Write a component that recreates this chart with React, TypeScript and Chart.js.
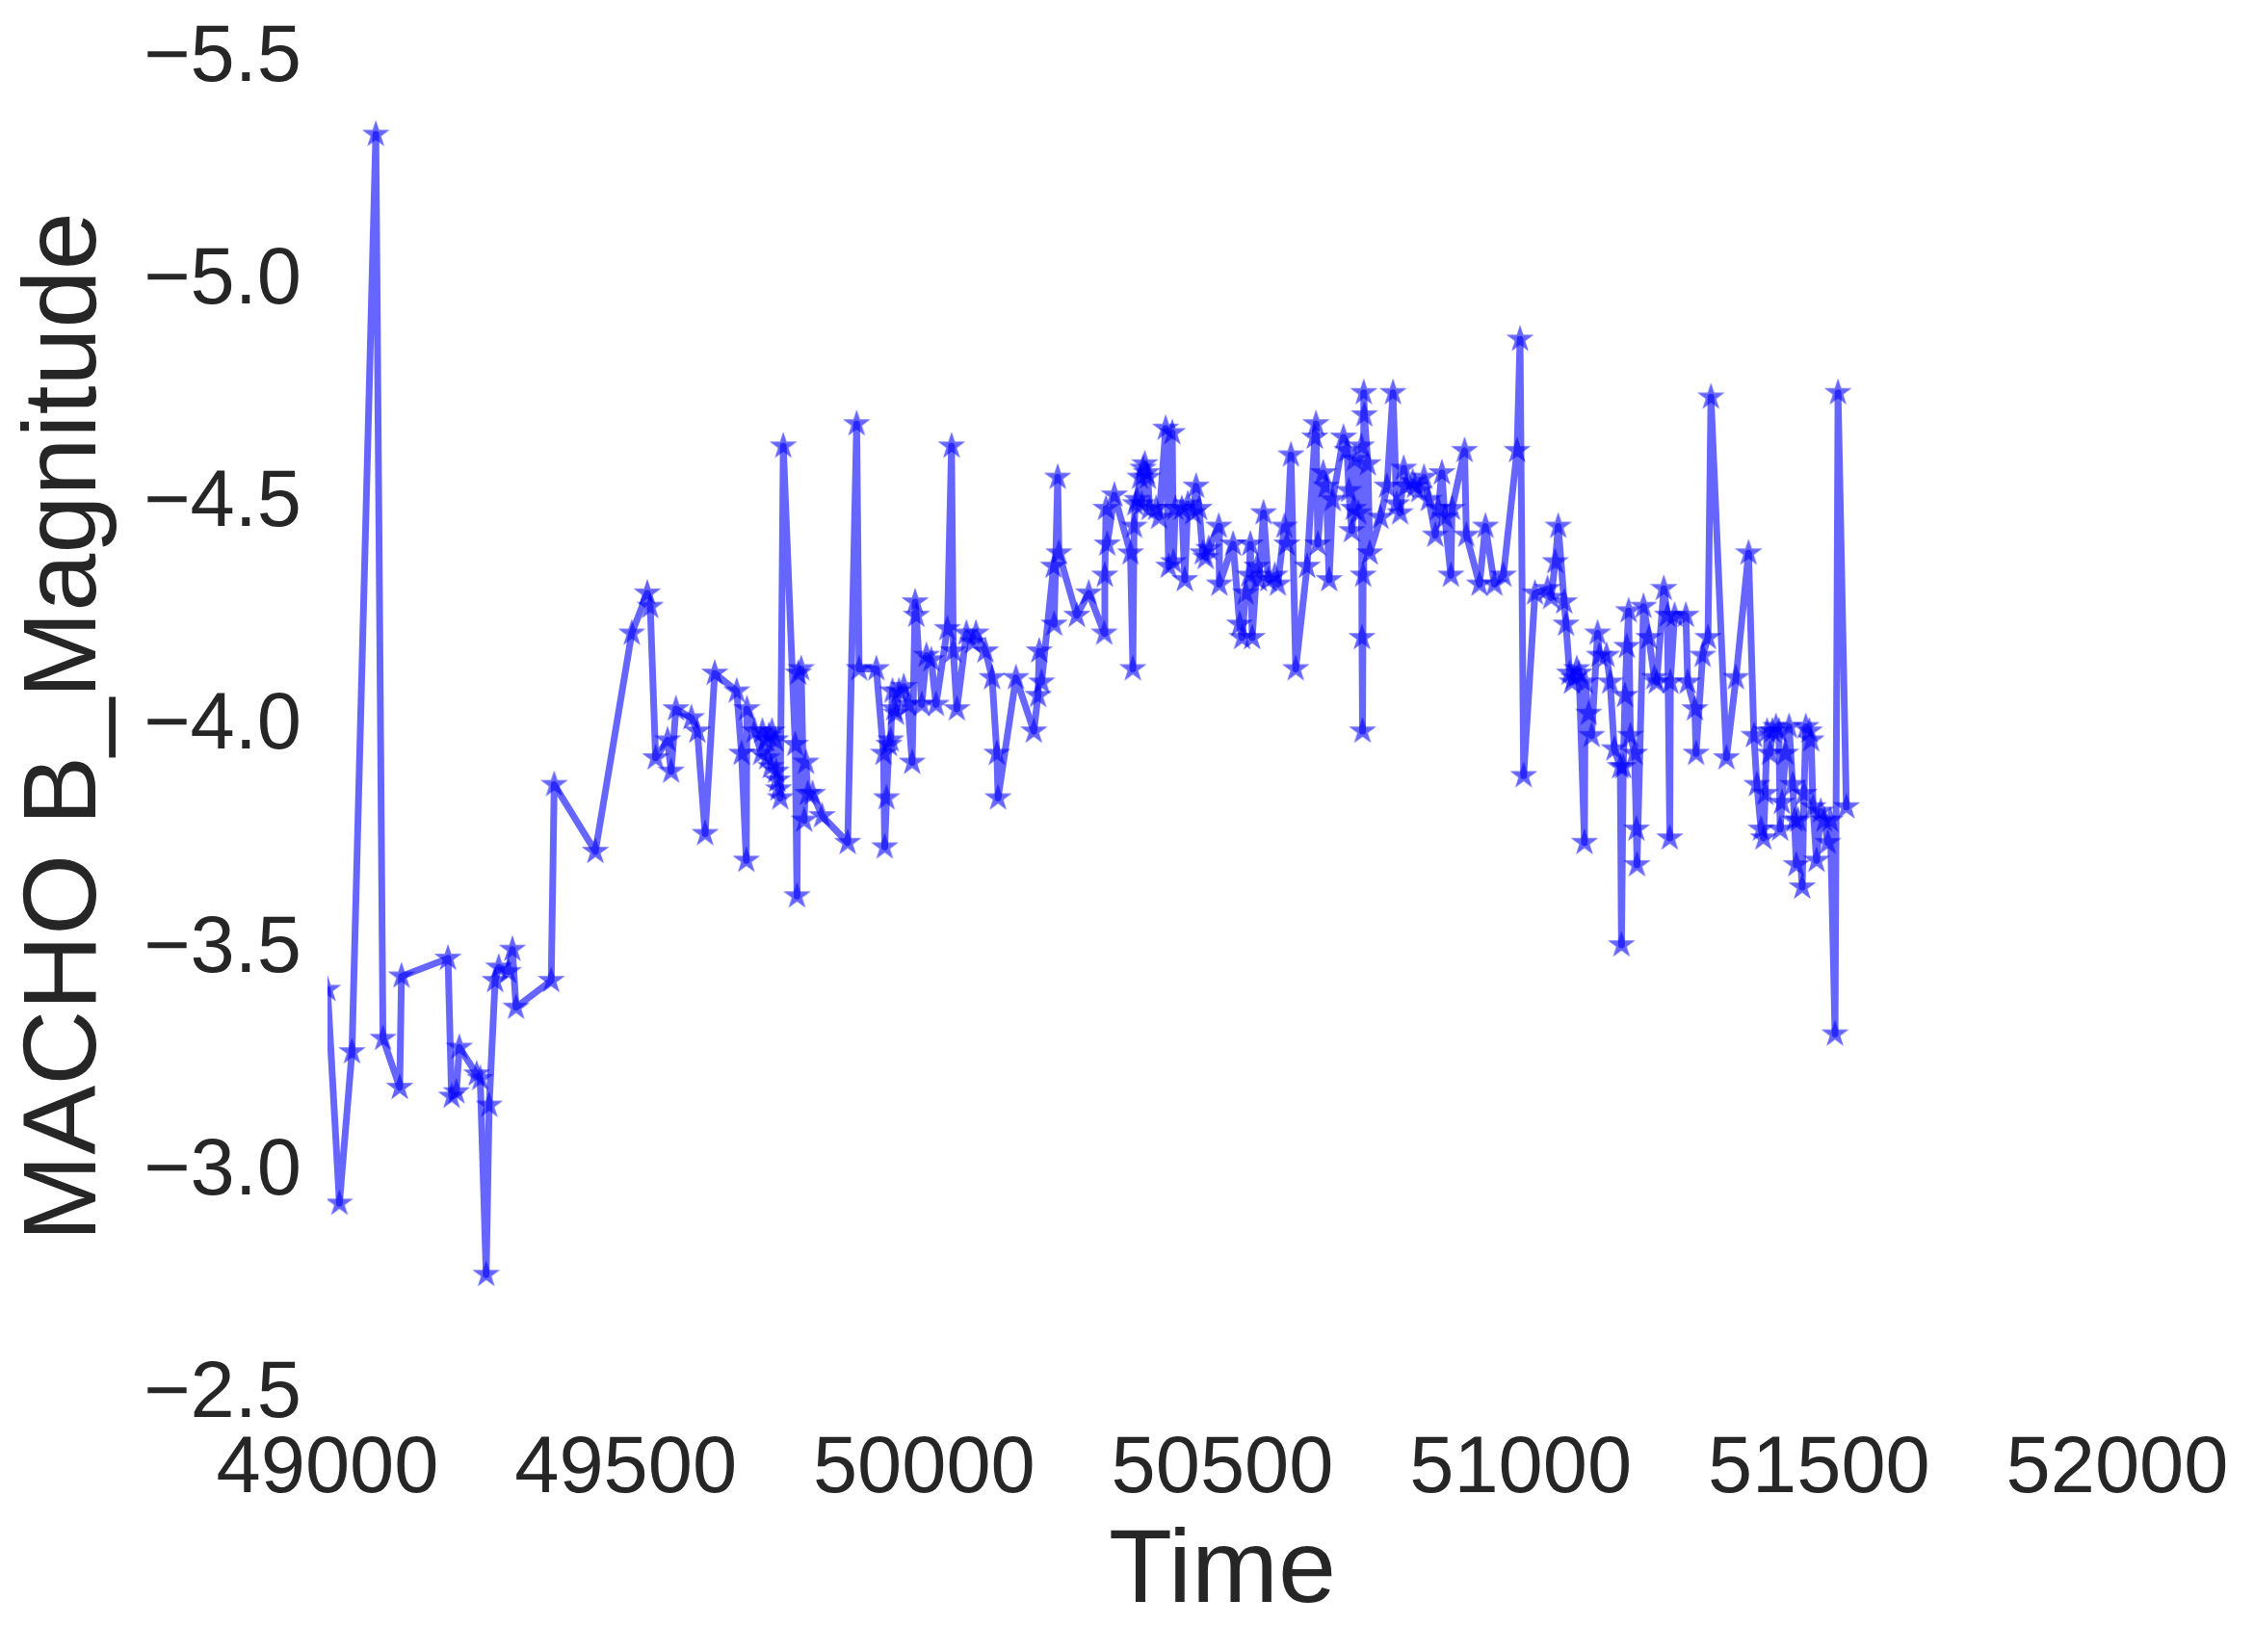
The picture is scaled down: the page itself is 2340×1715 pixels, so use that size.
import React, { useEffect, useRef } from 'react';
import { Chart, registerables } from 'chart.js';

Chart.register(...registerables);

// Observation times (MJD-like)
const times: number[] = [
  49000, 49020, 49041, 49081, 49093, 49121, 49124, 49202, 49208, 49216,
  49221, 49250, 49256, 49266, 49271, 49281, 49287, 49303, 49310, 49316,
  49375, 49380, 49449, 49510, 49536, 49541, 49550, 49570, 49576, 49584,
  49610, 49620, 49633, 49649, 49686, 49694, 49702, 49703, 49716, 49727,
  49729, 49735, 49737, 49740, 49743, 49745, 49751, 49752, 49754, 49756,
  49759, 49764, 49784, 49787, 49789, 49794, 49799, 49802, 49805, 49813,
  49829, 49872, 49887, 49891, 49920, 49932, 49934, 49937, 49941, 49944,
  49947, 49950, 49953, 49958, 49966, 49973, 49980, 49985, 49987, 49996,
  50004, 50012, 50020, 50039, 50046, 50049, 50055, 50071, 50082, 50087,
  50103, 50114, 50122, 50124, 50154, 50184, 50191, 50193, 50197, 50217,
  50218, 50224, 50226, 50256, 50276, 50302, 50303, 50305, 50307, 50319,
  50346, 50350, 50352, 50354, 50357, 50362, 50365, 50367, 50370, 50373,
  50375, 50378, 50389, 50394, 50405, 50410, 50416, 50418, 50421, 50432,
  50437, 50442, 50451, 50456, 50461, 50467, 50472, 50477, 50494, 50495,
  50518, 50529, 50533, 50539, 50545, 50547, 50550, 50558, 50561, 50569,
  50577, 50588, 50593, 50604, 50608, 50615, 50623, 50642, 50655, 50657,
  50660, 50669, 50674, 50679, 50685, 50703, 50709, 50712, 50717, 50720,
  50722, 50728, 50733, 50734, 50735, 50736, 50737, 50738, 50744, 50747,
  50765, 50776, 50786, 50792, 50798, 50804, 50808, 50819, 50823, 50830,
  50838, 50846, 50857, 50862, 50868, 50873, 50883, 50885, 50906, 50909,
  50931, 50941, 50956, 50971, 50994, 50999, 51005, 51024, 51045, 51051,
  51058, 51063, 51073, 51076, 51082, 51086, 51089, 51094, 51098, 51107,
  51108, 51114, 51119, 51129, 51132, 51144, 51150, 51157, 51167, 51169,
  51172, 51175, 51178, 51181, 51184, 51191, 51194, 51195, 51206, 51215,
  51224, 51228, 51240, 51246, 51250, 51251, 51258, 51277, 51280, 51292,
  51294, 51305, 51314, 51319, 51345, 51361, 51382, 51391, 51396, 51403,
  51407, 51410, 51413, 51418, 51422, 51428, 51433, 51435, 51438, 51444,
  51450, 51456, 51459, 51462, 51465, 51472, 51475, 51478, 51484, 51487,
  51490, 51496, 51503, 51509, 51515, 51519, 51527, 51532, 51546,
];

// MACHO B magnitudes
const magnitudes: number[] = [
  -3.41, -2.93, -3.27, -5.33, -3.30, -3.19, -3.44, -3.48, -3.17, -3.18,
  -3.28, -3.22, -3.21, -2.77, -3.15, -3.43, -3.46, -3.45, -3.50, -3.37,
  -3.43, -3.87, -3.72, -4.21, -4.30, -4.27, -3.93, -3.97, -3.90, -4.04,
  -4.02, -3.99, -3.76, -4.12, -4.08, -3.94, -3.70, -4.04, -3.99, -3.94,
  -3.99, -3.97, -3.93, -3.98, -3.91, -3.99, -3.97, -3.90, -3.88, -3.86,
  -3.84, -4.63, -3.96, -3.62, -4.12, -4.13, -3.79, -3.92, -3.85, -3.85,
  -3.80, -3.74, -4.68, -4.13, -4.13, -3.94, -3.73, -3.84, -3.96, -3.97,
  -4.08, -4.04, -4.03, -4.08, -4.09, -4.05, -3.92, -4.28, -4.25, -4.05,
  -4.16, -4.15, -4.05, -4.22, -4.63, -4.17, -4.04, -4.21, -4.19, -4.21,
  -4.17, -4.11, -3.94, -3.84, -4.11, -3.99, -4.07, -4.17, -4.10, -4.36,
  -4.23, -4.56, -4.39, -4.25, -4.30, -4.21, -4.34, -4.49, -4.41, -4.52,
  -4.39, -4.13, -4.45, -4.50, -4.51, -4.56, -4.50, -4.58, -4.59, -4.57,
  -4.56, -4.49, -4.49, -4.47, -4.67, -4.36, -4.66, -4.37, -4.49, -4.49,
  -4.33, -4.50, -4.48, -4.54, -4.49, -4.39, -4.38, -4.40, -4.45, -4.32,
  -4.41, -4.23, -4.20, -4.30, -4.34, -4.41, -4.20, -4.36, -4.33, -4.48,
  -4.33, -4.34, -4.32, -4.45, -4.41, -4.61, -4.13, -4.36, -4.65, -4.68,
  -4.41, -4.57, -4.54, -4.33, -4.51, -4.65, -4.62, -4.53, -4.44, -4.49,
  -4.60, -4.48, -4.63, -4.20, -3.99, -4.34, -4.75, -4.70, -4.59, -4.39,
  -4.47, -4.54, -4.75, -4.50, -4.48, -4.58, -4.54, -4.55, -4.54, -4.53,
  -4.56, -4.51, -4.43, -4.49, -4.57, -4.47, -4.34, -4.49, -4.62, -4.43,
  -4.32, -4.45, -4.32, -4.34, -4.62, -4.87, -3.89, -4.30, -4.31, -4.29,
  -4.37, -4.45, -4.28, -4.23, -4.12, -4.10, -4.11, -4.13, -4.12, -3.74,
  -4.10, -4.03, -3.98, -4.21, -4.16, -4.16, -4.10, -3.95, -3.91, -3.51,
  -3.91, -4.07, -4.18, -4.26, -3.98, -3.94, -3.77, -3.69, -4.27, -4.20,
  -4.11, -4.10, -4.31, -4.25, -3.75, -4.10, -4.25, -4.25, -4.10, -4.04,
  -3.94, -4.16, -4.20, -4.74, -3.93, -4.11, -4.39, -3.98, -3.87, -3.77,
  -3.75, -3.85, -3.99, -3.94, -3.99, -4.00, -3.99, -3.77, -3.83, -3.94,
  -4.00, -3.87, -3.79, -3.69, -3.79, -3.64, -3.85, -4.00, -3.99, -3.97,
  -3.82, -3.70, -3.81, -3.79, -3.74, -3.79, -3.31, -4.75, -3.82,
];

const xTickValues: number[] = [49000, 49500, 50000, 50500, 51000, 51500, 52000];
const yTickValues: number[] = [-5.5, -5.0, -4.5, -4.0, -3.5, -3.0, -2.5];
const xAxisLabel = 'Time';
const yAxisLabel = 'MACHO B_Magnitude';

const TEXT_COLOR = '#262626';
const FONT_FAMILY = "'Liberation Sans', Arial, Helvetica, sans-serif";
const SERIES_COLOR = 'rgba(0, 0, 255, 0.6)';

function makeStarMarker(): HTMLCanvasElement {
  const size = 32;
  const c = document.createElement('canvas');
  c.width = size;
  c.height = size;
  const ctx = c.getContext('2d') as CanvasRenderingContext2D;
  const R = 15;
  const r = R * 0.381966;
  ctx.beginPath();
  for (let i = 0; i < 10; i++) {
    const rad = i % 2 === 0 ? R : r;
    const a = -Math.PI / 2 + (i * Math.PI) / 5;
    const x = size / 2 + rad * Math.cos(a);
    const y = size / 2 + rad * Math.sin(a);
    if (i === 0) ctx.moveTo(x, y);
    else ctx.lineTo(x, y);
  }
  ctx.closePath();
  ctx.fillStyle = SERIES_COLOR;
  ctx.fill();
  return c;
}

function fmtY(v: number): string {
  const s = Math.abs(v).toFixed(1);
  return v < 0 ? '\u2212' + s : s;
}

function clearScalePadding(scale: any) {
  scale.paddingLeft = 0;
  scale.paddingRight = 0;
  scale.paddingTop = 0;
  scale.paddingBottom = 0;
}

export default function App() {
  const canvasRef = useRef<HTMLCanvasElement | null>(null);

  useEffect(() => {
    document.body.style.margin = '0';
    document.body.style.background = '#ffffff';
    const canvas = canvasRef.current;
    if (!canvas) return;
    const star = makeStarMarker();
    const points = times.map((t, i) => ({ x: t, y: magnitudes[i] }));

    const chart = new Chart(canvas, {
      type: 'line',
      data: {
        datasets: [
          {
            data: points,
            borderColor: SERIES_COLOR,
            backgroundColor: SERIES_COLOR,
            borderWidth: 7,
            borderJoinStyle: 'round',
            borderCapStyle: 'round',
            tension: 0,
            fill: false,
            pointStyle: star as any,
            pointRadius: 15,
            pointHoverRadius: 15,
          },
        ],
      },
      options: {
        responsive: false,
        animation: false,
        devicePixelRatio: 1,
        events: [],
        layout: { padding: { top: 61, right: 142, left: 0, bottom: 0 } },
        plugins: {
          legend: { display: false },
          tooltip: { enabled: false },
        },
        scales: {
          x: {
            type: 'linear',
            min: 49000,
            max: 52000,
            afterBuildTicks: (scale: any) => {
              scale.ticks = xTickValues.map((v) => ({ value: v }));
            },
            afterFit: (scale: any) => {
              scale.height = 267;
              clearScalePadding(scale);
            },
            grid: { display: false, drawTicks: false },
            border: { display: false },
            ticks: {
              autoSkip: false,
              maxRotation: 0,
              minRotation: 0,
              padding: 37,
              color: TEXT_COLOR,
              font: { family: FONT_FAMILY, size: 83, lineHeight: 1 },
              callback: (v: any) => String(v),
            },
            title: {
              display: true,
              text: xAxisLabel,
              color: TEXT_COLOR,
              font: { family: FONT_FAMILY, size: 108, lineHeight: 1 },
              padding: { top: 0, bottom: 28 },
            },
          },
          y: {
            type: 'linear',
            reverse: true,
            min: -5.5,
            max: -2.5,
            afterBuildTicks: (scale: any) => {
              scale.ticks = yTickValues.map((v) => ({ value: v }));
            },
            afterFit: (scale: any) => {
              scale.width = 340;
              clearScalePadding(scale);
            },
            grid: { display: false, drawTicks: false },
            border: { display: false },
            ticks: {
              autoSkip: false,
              padding: 27,
              color: TEXT_COLOR,
              font: { family: FONT_FAMILY, size: 83, lineHeight: 1 },
              callback: (v: any) => fmtY(Number(v)),
            },
            title: {
              display: true,
              text: yAxisLabel,
              color: TEXT_COLOR,
              font: { family: FONT_FAMILY, size: 108, lineHeight: 1 },
              padding: { top: 15, bottom: 0 },
            },
          },
        },
      },
    });

    return () => {
      chart.destroy();
    };
  }, []);

  return (
    <div style={{ width: 2340, height: 1715, background: '#ffffff' }}>
      <canvas ref={canvasRef} width={2340} height={1715} style={{ display: 'block' }} />
    </div>
  );
}
